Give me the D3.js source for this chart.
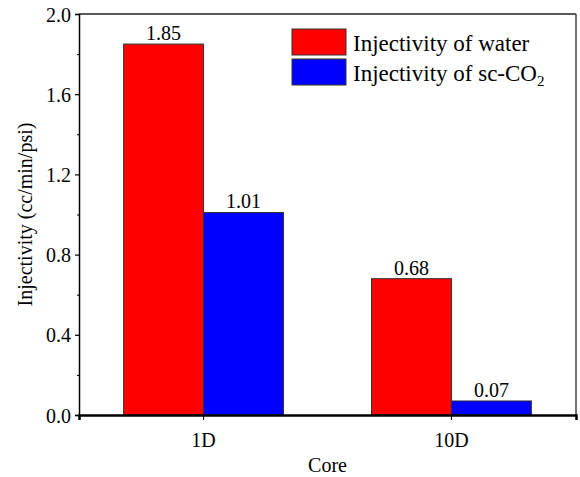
<!DOCTYPE html>
<html>
<head>
<meta charset="utf-8">
<script src="https://cdn.jsdelivr.net/npm/d3@7"></script>
<style>
  body { margin: 0; background: #fff; }
  svg { display: block; }
  svg text { font-family: "Liberation Serif", "Times New Roman", serif !important; }
</style>
</head>
<body>
<svg id="chart" width="580" height="477"></svg>
<script>
// data
let cores = ["1D", "10D"];
let waterVals = [1.85, 0.68];
let co2Vals = [1.01, 0.07];
let seriesNames = ["Injectivity of water", "Injectivity of sc-CO"];
let seriesColors = ["#ff0000", "#0000ff"];
let yTicks = [0.0, 0.4, 0.8, 1.2, 1.6, 2.0];
let yMinor = [0.2, 0.6, 1.0, 1.4, 1.8];

init();
function init(){
    let svg = d3.select("#chart");
    let left = 79, right = 576, top = 14, bottom = 415;

    let x = d3.scaleBand()
        .domain(cores)
        .range([left, right])
        .paddingInner(0.355)
        .paddingOuter(0.18);
    let xs = d3.scaleBand()
        .domain([0, 1])
        .range([0, x.bandwidth()]);
    let y = d3.scaleLinear().domain([0, 2]).range([bottom, top]);

    let rows = cores.map((c, i) => ({core: c, vals: [waterVals[i], co2Vals[i]]}));

    //bars
    let g = svg.append("g");
    rows.forEach(r => {
        r.vals.forEach((v, j) => {
            g.append("rect")
                .attr("x", x(r.core) + xs(j))
                .attr("y", y(v))
                .attr("width", xs.bandwidth())
                .attr("height", y(0) - y(v))
                .attr("fill", seriesColors[j])
                .attr("stroke", "#333")
                .attr("stroke-width", 1);
            g.append("text")
                .attr("x", x(r.core) + xs(j) + xs.bandwidth() / 2)
                .attr("y", y(v) - 4)
                .attr("text-anchor", "middle")
                .style("font-size", "20px")
                .text(v.toFixed(2));
        });
    });

    //frame top/right
    svg.append("line").attr("x1", left).attr("x2", right).attr("y1", top).attr("y2", top)
        .attr("stroke", "#222").attr("stroke-width", 1.5);
    svg.append("line").attr("x1", right).attr("x2", right).attr("y1", top).attr("y2", bottom)
        .attr("stroke", "#444").attr("stroke-width", 1.5);

    //y axis
    let yAxis = svg.append("g")
        .attr("transform", "translate(" + left + ",0)")
        .call(d3.axisLeft(y).tickValues(yTicks).tickFormat(d3.format(".1f")).tickSize(4).tickPadding(4));
    yAxis.select(".domain").attr("stroke", "#000").attr("stroke-width", 1.5);
    yAxis.selectAll("text").style("font-size", "20px").attr("fill", "#000").attr("dy", "0.35em");
    yAxis.selectAll("line").attr("stroke-width", 1.2);
    svg.append("g")
        .attr("transform", "translate(" + left + ",0)")
        .call(d3.axisLeft(y).tickValues(yMinor).tickFormat("").tickSize(2))
        .select(".domain").remove();

    //x axis
    let xAxis = svg.append("g")
        .attr("transform", "translate(0," + bottom + ")")
        .call(d3.axisBottom(x).tickSize(5).tickPadding(13));
    xAxis.select(".domain").attr("stroke", "#000").attr("stroke-width", 2.5);
    xAxis.selectAll("text").style("font-size", "20px").attr("fill", "#000");

    //axis titles
    svg.append("text")
        .attr("transform", "translate(32," + (top + bottom) / 2 + ") rotate(-90)")
        .attr("text-anchor", "middle")
        .style("font-size", "20px")
        .text("Injectivity (cc/min/psi)");
    svg.append("text")
        .attr("x", (left + right) / 2)
        .attr("y", 472)
        .attr("text-anchor", "middle")
        .style("font-size", "20px")
        .text("Core");

    //legend
    let lg = svg.append("g").attr("transform", "translate(292,29)");
    seriesNames.forEach((n, i) => {
        lg.append("rect")
            .attr("x", 0).attr("y", i * 30)
            .attr("width", 54).attr("height", 26)
            .attr("fill", seriesColors[i])
            .attr("stroke", "#333").attr("stroke-width", 1);
        let t = lg.append("text")
            .attr("x", 61).attr("y", i * 30 + 22)
            .style("font-size", "23px")
            .text(n);
        if (i == 1) {
            t.append("tspan").attr("dy", 5).style("font-size", "15px").text("2");
        }
    });
}
</script>
</body>
</html>
